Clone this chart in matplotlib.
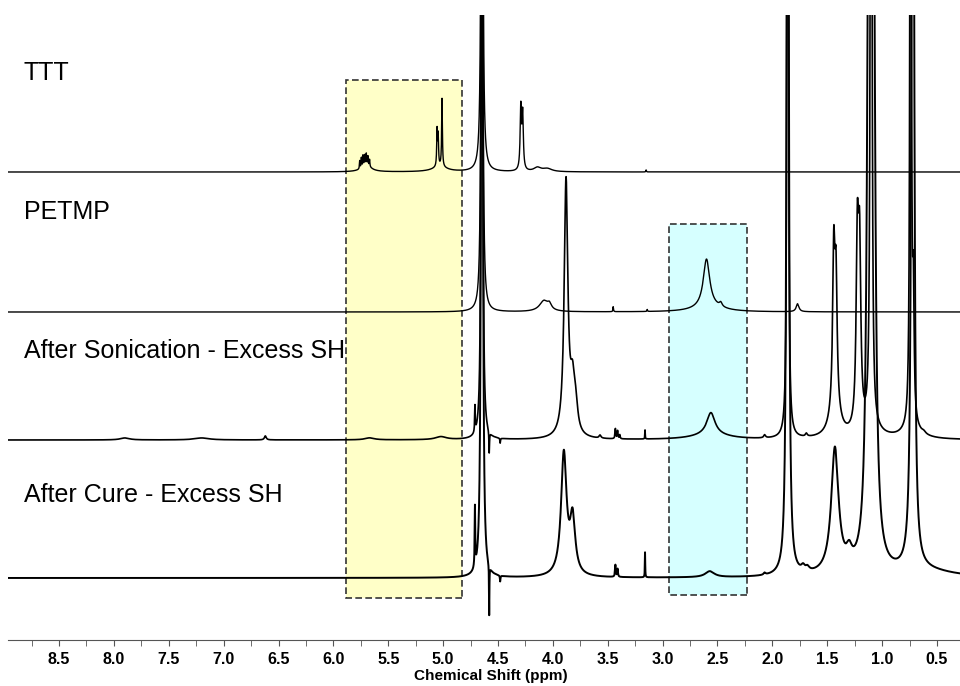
import numpy as np
import matplotlib.pyplot as plt
from matplotlib.patches import Rectangle
from matplotlib.ticker import MultipleLocator

# spectra as peak tables: centre (ppm), height (a.u.), half width (ppm)
labels = ["TTT", "PETMP", "After Sonication - Excess SH", "After Cure - Excess SH"]
offsets = [468, 328, 200, 62]

ttt_ppm = [5.76, 5.745, 5.73, 5.715, 5.70, 5.685, 5.67, 5.70,
           5.055, 5.045, 5.01, 5.03, 4.646, 4.292, 4.275, 4.14, 4.05, 3.15]
ttt_h = [8, 10, 11, 10, 11, 9, 7, 7,
         36, 30, 68, 5, 1500, 62, 55, 4, 3, 2]
ttt_w = [0.003, 0.003, 0.003, 0.003, 0.003, 0.003, 0.003, 0.05,
         0.004, 0.004, 0.004, 0.08, 0.005, 0.007, 0.007, 0.04, 0.05, 0.003]

petmp_ppm = [4.646, 4.08, 4.03, 3.45, 3.14, 2.60, 2.47, 2.58, 1.77]
petmp_h = [1500, 11, 5, 5, 2, 48, 4, 5, 8]
petmp_w = [0.005, 0.05, 0.02, 0.003, 0.003, 0.035, 0.015, 0.15, 0.015]

son_ppm = [7.9, 7.2, 6.62, 5.67, 5.02, 4.71, 4.646, 4.58, 4.48,
           3.88, 3.82, 3.79, 3.57, 3.43, 3.41, 3.39, 3.16, 2.56, 2.56, 2.07,
           1.86, 1.69, 1.44, 1.42, 1.43, 1.225, 1.205, 1.10, 1.10,
           0.74, 0.715, 0.73, 0.62]
son_h = [2, 2, 4, 2, 3, 26, 1500, -22, -5,
         255, 48, 20, 3, 10, 8, 4, 9, 22, 5, 3,
         1500, 3, 150, 120, 30, 180, 165, 1500, 8,
         1500, 120, 8, 2]
son_w = [0.05, 0.08, 0.01, 0.05, 0.06, 0.003, 0.005, 0.003, 0.003,
         0.02, 0.025, 0.02, 0.01, 0.004, 0.004, 0.004, 0.002, 0.045, 0.2, 0.01,
         0.005, 0.01, 0.012, 0.012, 0.05, 0.013, 0.013, 0.006, 0.1,
         0.005, 0.008, 0.1, 0.02]

cure_ppm = [4.71, 4.646, 4.58, 4.48, 3.90, 3.82, 3.43, 3.41, 3.16, 2.57,
            2.07, 1.86, 1.72, 1.68, 1.43, 1.30, 1.12, 1.08, 0.72, 0.6]
cure_h = [60, 1500, -50, -6, 122, 55, 12, 8, 25, 6,
          2, 1500, 5, 4, 125, 14, 700, 700, 1500, 6]
cure_w = [0.003, 0.006, 0.002, 0.003, 0.03, 0.028, 0.004, 0.004, 0.002, 0.05,
          0.01, 0.008, 0.02, 0.02, 0.04, 0.03, 0.018, 0.018, 0.01, 0.3]

peak_tables = [(ttt_ppm, ttt_h, ttt_w), (petmp_ppm, petmp_h, petmp_w),
               (son_ppm, son_h, son_w), (cure_ppm, cure_h, cure_w)]
line_widths = [1.0, 1.0, 1.2, 1.4]

yellow_box = (5.885, 4.828)
cyan_box = (2.942, 2.231)


def spectrum(x, ppm, h, w):
    y = np.zeros_like(x)
    for c, a, g in zip(ppm, h, w):
        y += a * g**2 / ((x - c)**2 + g**2)
    return y


fig = plt.figure(figsize=(9.6, 6.86), dpi=100)
ax = fig.add_axes([8 / 960, 46 / 686, 952 / 960, 625 / 686])

x = np.arange(0.29, 8.97, 0.0004)
for (ppm, h, w), off, lw in zip(peak_tables, offsets, line_widths):
    ax.plot(x, spectrum(x, ppm, h, w) + off, color='black', lw=lw, zorder=3)

ax.add_patch(Rectangle((yellow_box[1], 42), yellow_box[0] - yellow_box[1], 518,
                       facecolor='#ffffc8', edgecolor='#333333', lw=1.2,
                       linestyle=(0, (4, 2)), zorder=1))
ax.add_patch(Rectangle((cyan_box[1], 45), cyan_box[0] - cyan_box[1], 371,
                       facecolor='#d6ffff', edgecolor='#333333', lw=1.2,
                       linestyle=(0, (4, 2)), zorder=1))

for lab, ytxt in zip(labels, [567, 428, 289, 145]):
    ax.text(8.82, ytxt, lab, fontsize=18, va='center', ha='left',
            family=['Liberation Sans', 'DejaVu Sans'])

ax.set_xlim(8.965, 0.29)
ax.set_ylim(0, 625)
for s in ['left', 'right', 'top']:
    ax.spines[s].set_visible(False)
ax.spines['bottom'].set_color('#555555')
ax.set_yticks([])
ax.xaxis.set_major_locator(MultipleLocator(0.5))
ax.xaxis.set_minor_locator(MultipleLocator(0.25))
ax.tick_params(axis='x', which='both', direction='out', length=4, color='#555555', pad=5)
for t in ax.get_xticklabels():
    t.set_family(['Liberation Sans', 'DejaVu Sans'])
    t.set_fontweight('bold')
    t.set_fontsize(11.5)
ax.set_xlabel("Chemical Shift (ppm)", fontsize=11, fontweight='bold',
              family=['Liberation Sans', 'DejaVu Sans'])
ax.xaxis.set_label_coords(483 / 952, -0.047)

fig.savefig("out.png", dpi=100)
